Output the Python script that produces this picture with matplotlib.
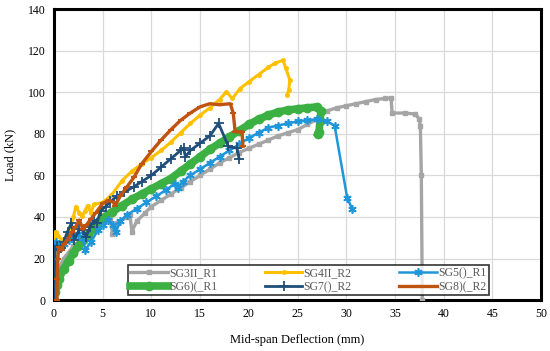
import matplotlib
matplotlib.use("Agg")
import matplotlib.pyplot as plt

plt.rcParams['font.family'] = ['Liberation Serif', 'DejaVu Serif']

sg3_x = [0, 0.2, 0.5, 1, 2, 3, 4, 5, 5.8, 6.0, 6.5, 7.4, 7.8, 8.0, 8.5, 9.3, 10, 11, 12, 13, 14, 15, 16, 17, 18, 19, 20,
         21, 22, 23, 24, 25, 26, 27, 28, 29, 30, 31, 32, 33, 34, 34.6, 34.7, 36, 37.1, 37.5, 37.6, 37.7, 37.8]
sg3_y = [0, 8, 15, 20, 26, 30, 34, 37, 39, 32, 37, 40, 41, 33, 38, 41.7, 45, 48, 51, 54, 57, 60, 63, 66, 68.5, 71, 73,
         75, 77, 79, 80.5, 82, 84.5, 87, 91, 92.5, 93.5, 94.5, 95.5, 96.5, 97, 97.3, 90, 90, 89.5, 87, 84, 60, 0]

sg4_x = [0, 0.1, 0.17, 0.45, 0.8, 1.2, 1.65, 2.0, 2.25, 2.6, 2.9, 3.2, 3.45, 3.8, 4.1, 5, 5.9, 7, 8, 9, 10, 11, 12, 13,
         14, 15, 16, 17, 17.7, 18.3, 19.1, 20, 21, 22, 22.7, 23.5, 23.8, 24.2, 24.1, 23.9]
sg4_y = [0, 15, 33, 31, 29, 30, 34, 40, 45, 42, 40.5, 43, 45.5, 42, 46, 47, 50.5, 57.5, 62, 65.5, 68.5, 72, 76, 80.5,
         85, 89, 92.5, 96.5, 100.2, 97, 101.8, 105, 108.5, 112, 114, 115.4, 111.5, 106, 101, 98.6]

sg5_x = [0, 0.05, 0.1, 0.2, 0.5, 1, 1.5, 2, 2.5, 3.0, 3.2, 3.8, 4.5, 5, 5.5, 6.1, 6.4, 6.8, 7.5, 8.5, 9.5, 10.5, 11.5,
         12.4, 12.7, 13.2, 14, 15, 16, 17, 18, 19, 20, 21, 22, 23, 24, 25, 26, 27, 28, 28.8, 30.1, 30.6]
sg5_y = [0, 10, 20, 28, 25, 27, 29, 31, 32, 30, 24, 28, 33.5, 36, 38.5, 36, 33, 38, 41, 44, 47, 50, 53,
         56, 54, 57, 60, 63, 66, 69, 72, 75, 78, 80.5, 83, 84, 85, 86, 86.5, 87, 86, 84, 49, 44]

sg6_x = [0, 0.1, 0.3, 0.5, 1, 1.5, 2, 2.5, 3, 3.5, 4, 4.5, 5, 6, 7, 8, 9, 10, 11, 12, 13, 14, 15, 16, 17, 18, 19, 20,
         21, 22, 23, 24, 25, 26, 27, 27.4, 27.3, 27.2, 27.1]
sg6_y = [0, 4, 7.5, 10, 15, 19, 22.5, 26, 29, 31.5, 34, 36.5, 39.5, 42.5, 45.5, 48.5, 51, 53.5, 56, 58.5, 62, 65.5,
         69, 72.5, 75.5, 78.5, 81.5, 84.5, 87, 89, 90.5, 91.5, 92, 92.5, 93, 91, 86, 81, 80]

sg7_x = [0, 0.05, 0.1, 0.3, 0.7, 1.0, 1.4, 1.8, 2.1, 2.6, 3.0, 3.3, 3.7, 4.1, 4.4, 4.8, 5.3, 5.8, 6.5, 7.2, 8.2, 9, 10,
         11, 12, 13, 13.3, 13.5, 14, 15, 16, 16.9, 17.9, 18.8, 19.0]
sg7_y = [0, 12, 24, 26, 25, 28, 33, 37, 29, 34, 33.5, 30.5, 35, 38.5, 37, 43, 45, 47.5, 50, 52, 54.5, 57, 60,
         64, 68, 72, 73, 69, 72, 75.5, 79, 85, 74, 73, 68]

sg8_x = [0.3, 0.35, 0.4, 0.5, 0.8, 1.0, 1.4, 1.9, 2.2, 2.6, 3.0, 3.3, 3.8, 4.3, 5, 5.7, 6.1, 6.3, 6.8, 7.5, 8.2, 9, 10,
         11, 12, 13, 14, 15, 16, 17, 18.1, 18.4, 18.6, 19.3, 19.4]
sg8_y = [0, 10, 20, 25.5, 24, 27, 29, 33, 35, 38.5, 34, 36, 39, 42, 46.5, 48, 47, 45.5, 50, 54.5, 59, 65.5, 71.5,
         77, 82, 86.5, 90, 93, 94.5, 94, 94.5, 90, 81, 81, 74]

labels = ['SG3II_R1', 'SG4II_R2', 'SG5()_R1', 'SG6)(_R1', 'SG7()_R2', 'SG8)(_R2']
x_ticks = [0, 5, 10, 15, 20, 25, 30, 35, 40, 45, 50]
y_ticks = [0, 20, 40, 60, 80, 100, 120, 140]

fig = plt.figure(figsize=(5.5, 3.51), dpi=100)
ax = fig.add_axes([0.098, 0.145, 0.886, 0.829])

h3, = ax.plot(sg3_x, sg3_y, color='#A5A5A5', lw=2.4, marker='s', ms=2.5, label=labels[0], zorder=3)
h4, = ax.plot(sg4_x, sg4_y, color='#FFC000', lw=2.2, marker='o', ms=2.5, label=labels[1], zorder=4)
h5, = ax.plot(sg5_x, sg5_y, color='#1F96D9', lw=1.8, marker=(6, 2, 0), ms=6, mew=1.2, label=labels[2], zorder=5)
h6, = ax.plot(sg6_x, sg6_y, color='#3CB043', lw=5.5, marker='o', ms=6, label=labels[3], zorder=4)
h7, = ax.plot(sg7_x, sg7_y, color='#1F4E79', lw=2.0, marker='+', ms=7, mew=1.3, label=labels[4], zorder=6)
h8, = ax.plot(sg8_x, sg8_y, color='#C0530F', lw=2.4, marker='_', ms=5, mew=1.5, label=labels[5], zorder=6)

ax.set_xlim(0, 50)
ax.set_ylim(0, 140)
ax.set_xticks(x_ticks)
ax.set_yticks(y_ticks)
ax.grid(True, color='#D9D9D9', lw=0.9)
ax.set_axisbelow(True)
for s in ax.spines.values():
    s.set_linewidth(2.2)
    s.set_color('black')
ax.tick_params(length=0, labelsize=8.5, pad=6)
ax.set_xlabel('Mid-span Deflection (mm)', fontsize=9, labelpad=10)
ax.set_ylabel('Load (kN)', fontsize=9, labelpad=8)

handles = [h3, h6, h4, h7, h5, h8]
leg = ax.legend(handles, [h.get_label() for h in handles], ncol=3, loc='lower left',
                bbox_to_anchor=(0.152, 0.016, 0.74, 0.11), mode='expand', fontsize=8.5,
                frameon=True, fancybox=False, edgecolor='black', borderpad=0.2, labelspacing=0.15,
                handlelength=3.2, handletextpad=0.1, columnspacing=1.0, borderaxespad=0)
leg.get_frame().set_linewidth(1.2)
for t in leg.get_texts():
    t.set_color('#595959')

fig.savefig('out.png', dpi=100)
